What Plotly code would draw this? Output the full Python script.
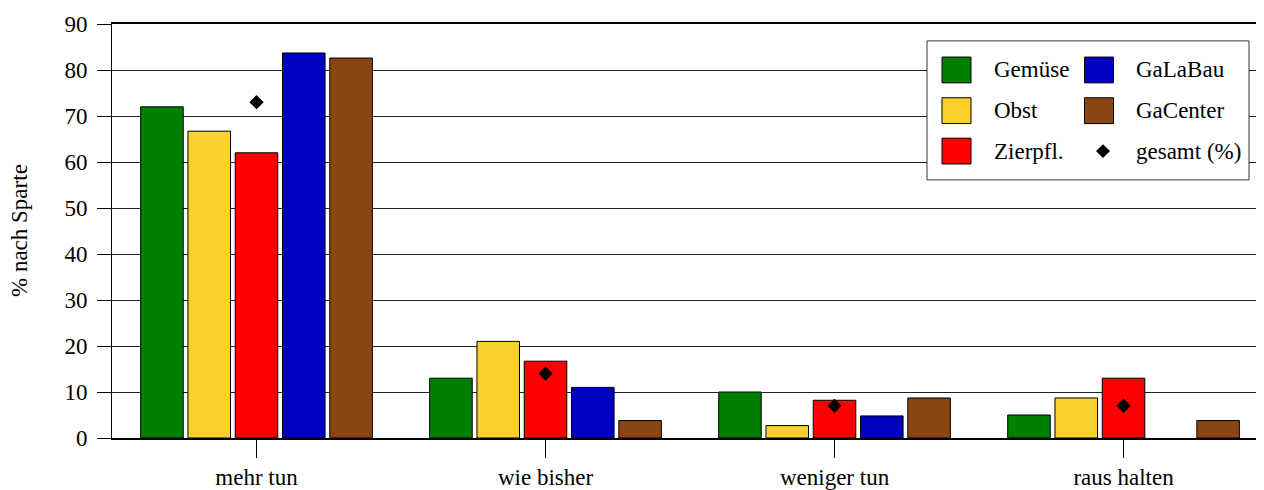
import plotly.graph_objects as go

categories = ["mehr tun", "wie bisher", "weniger tun", "raus halten"]
gemuese = [72, 13, 10, 5]
obst = [66.7, 21, 2.7, 8.7]
zierpfl = [62, 16.7, 8.2, 13]
galabau = [83.7, 11, 4.8, 0]
gacenter = [82.6, 3.8, 8.7, 3.8]
gesamt = [73, 14, 7, 7]

series_names = ["Gemüse", "Obst", "Zierpfl.", "GaLaBau", "GaCenter"]
series_values = [gemuese, obst, zierpfl, galabau, gacenter]
series_colors = ["#008000", "#F9D12A", "#FF0000", "#0000C0", "#8B4513"]

FONT = "Liberation Serif"
FS = 23
# page has an 8px body margin; figure sized to fit the 1264x490 window
OFF = 8
W, H = 1256, 482
ML, MR, MT, MB = 104, 0, 16, 49

fig = go.Figure()
for name, vals, col in zip(series_names, series_values, series_colors):
    fig.add_trace(go.Bar(
        x=categories, y=vals, name=name,
        marker=dict(color=col, line=dict(color="#000000",
                                         width=[1 if v else 0 for v in vals])),
        showlegend=False,
    ))
fig.add_trace(go.Scatter(
    x=categories, y=gesamt, name="gesamt (%)", mode="markers",
    marker=dict(symbol="diamond", size=11, color="#000000"),
    showlegend=False,
))

# manual legend (layout decoration), positions given in page pixels
pw, ph = W - ML - MR, H - MT - MB
def px(x):
    return (x - OFF - ML) / pw
def py(y):
    return (OFF + H - MB - y) / ph

shapes = []
annotations = []
shapes.append(dict(type="rect", xref="paper", yref="paper",
                   x0=px(927), x1=px(1249), y0=py(181), y1=py(41),
                   line=dict(color="#333333", width=1), fillcolor="#FFFFFF", layer="above"))
legend_items = [
    ("Gemüse", "#008000", 0, 0), ("Obst", "#F9D12A", 0, 1), ("Zierpfl.", "#FF0000", 0, 2),
    ("GaLaBau", "#0000C0", 1, 0), ("GaCenter", "#8B4513", 1, 1),
]
col_sw = [942, 1084.5]
col_tx = [992, 1134]
row_y = [70.3, 111.3, 152]
for label, col, c, r in legend_items:
    shapes.append(dict(type="rect", xref="paper", yref="paper",
                       x0=px(col_sw[c]), x1=px(col_sw[c] + 29),
                       y0=py(row_y[r] + 13), y1=py(row_y[r] - 13),
                       line=dict(color="#000000", width=1), fillcolor=col, layer="above"))
    annotations.append(dict(xref="paper", yref="paper", x=px(col_tx[c]), y=py(row_y[r]),
                            text=label, showarrow=False, xanchor="left", yanchor="middle",
                            font=dict(family=FONT, size=FS, color="#000000")))
annotations.append(dict(xref="paper", yref="paper", x=px(col_tx[1]), y=py(row_y[2]),
                        text="gesamt (%)", showarrow=False, xanchor="left", yanchor="middle",
                        font=dict(family=FONT, size=FS, color="#000000")))
dx, dy = 7, 7
cx, cy = 1103, row_y[2]
shapes.append(dict(type="path", xref="paper", yref="paper",
                   path=f"M {px(cx - dx)} {py(cy)} L {px(cx)} {py(cy - dy)} L {px(cx + dx)} {py(cy)} L {px(cx)} {py(cy + dy)} Z",
                   fillcolor="#000000", line=dict(color="#000000", width=0), layer="above"))

annotations.append(dict(xref="paper", yref="paper", x=px(19), y=0.5, text="% nach Sparte",
                        textangle=-90, showarrow=False, xanchor="center", yanchor="middle",
                        borderpad=0,
                        font=dict(family=FONT, size=FS, color="#000000")))

fig.update_layout(
    width=W, height=H,
    margin=dict(l=ML, r=MR, t=MT, b=MB),
    paper_bgcolor="#FFFFFF", plot_bgcolor="#FFFFFF",
    font=dict(family=FONT, size=FS, color="#000000"),
    barmode="group", bargap=0.182, bargroupgap=0.1,
    showlegend=False,
    shapes=shapes, annotations=annotations,
    xaxis=dict(range=[-0.5, 3.486], showline=True, mirror=True, linecolor="#000000", linewidth=1.5,
               ticks="outside", ticklen=18, tickcolor="#000000", tickwidth=1,
               showgrid=False, zeroline=False, tickfont=dict(family=FONT, size=FS)),
    yaxis=dict(range=[0, 90], tickvals=list(range(0, 91, 10)), showline=True, linecolor="#000000",
               linewidth=1, ticks="outside", ticklen=14, tickcolor="#000000", tickwidth=1,
               showgrid=True, gridcolor="#222222", gridwidth=1, zeroline=False,
               ticklabelstandoff=5, tickfont=dict(family=FONT, size=FS)),
)

fig.write_html("out.html")
